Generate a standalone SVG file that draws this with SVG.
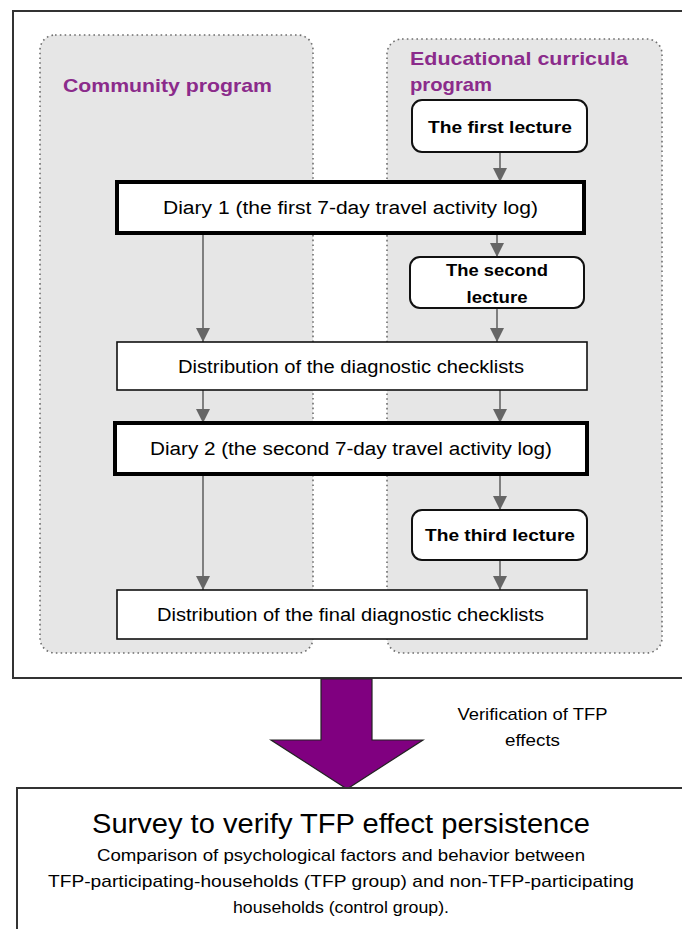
<svg xmlns="http://www.w3.org/2000/svg" width="682" height="929" viewBox="0 0 682 929">
<style>
text{font-family:"Liberation Sans",Arial,sans-serif;fill:#000}
.hd{font-size:19px;font-weight:bold;fill:#8b2b8b}
.lec{font-size:17px;font-weight:bold;text-anchor:middle}
.bx{font-size:18px;text-anchor:middle}
.prog{fill:#e6e6e6;stroke:#6e6e6e;stroke-width:1.6;stroke-dasharray:1.6 3.2}
.lbox{fill:#fff;stroke:#111;stroke-width:2}
.thick{fill:#fff;stroke:#000;stroke-width:4}
.thin{fill:#fff;stroke:#111;stroke-width:1.6}
.conn line{stroke:#666;stroke-width:1.6;marker-end:url(#ah)}
</style>
<defs>
<marker id="ah" markerUnits="userSpaceOnUse" markerWidth="14" markerHeight="14" refX="14" refY="7" orient="auto" viewBox="0 0 14 14">
<path d="M0,0 L14,7 L0,14 Z" fill="#666"/>
</marker>
</defs>
<rect width="682" height="929" fill="#fff"/>
<g id="frame"><rect x="13" y="11" width="675" height="667" fill="#fff" stroke="#333" stroke-width="2"/></g>
<g id="community-program"><rect class="prog" x="40" y="35" width="273" height="618" rx="15"/><text class="hd" x="63" y="92" textLength="209" lengthAdjust="spacingAndGlyphs">Community program</text></g>
<g id="educational-program"><rect class="prog" x="387" y="39" width="275" height="614" rx="15"/><text class="hd" x="410" y="65" textLength="218" lengthAdjust="spacingAndGlyphs">Educational curricula</text><text class="hd" x="410" y="91" textLength="82" lengthAdjust="spacingAndGlyphs">program</text></g>
<g class="conn" id="connectors">
<line x1="500" y1="152" x2="500" y2="182"/>
<line x1="497" y1="233" x2="497" y2="257"/>
<line x1="497" y1="308" x2="497" y2="342"/>
<line x1="500" y1="390" x2="500" y2="423"/>
<line x1="500" y1="474" x2="500" y2="510"/>
<line x1="500" y1="560" x2="500" y2="590"/>
<line x1="203" y1="233" x2="203" y2="342"/>
<line x1="203" y1="390" x2="203" y2="423"/>
<line x1="203" y1="474" x2="203" y2="590"/>
</g>
<g id="first-lecture"><rect class="lbox" x="412" y="100" width="175" height="52" rx="10"/><text class="lec" x="500" y="133" textLength="144" lengthAdjust="spacingAndGlyphs">The first lecture</text></g>
<g id="diary1"><rect class="thick" x="117" y="182" width="467" height="51"/><text class="bx" x="350.5" y="214" textLength="375" lengthAdjust="spacingAndGlyphs">Diary 1 (the first 7-day travel activity log)</text></g>
<g id="second-lecture"><rect class="lbox" x="410" y="257" width="174" height="51" rx="10"/><text class="lec" x="497" y="276" textLength="102" lengthAdjust="spacingAndGlyphs">The second</text><text class="lec" x="497" y="303" textLength="61" lengthAdjust="spacingAndGlyphs">lecture</text></g>
<g id="distribution"><rect class="thin" x="117" y="342" width="470" height="48"/><text class="bx" x="351" y="373" textLength="346" lengthAdjust="spacingAndGlyphs">Distribution of the diagnostic checklists</text></g>
<g id="diary2"><rect class="thick" x="115" y="423" width="472" height="51"/><text class="bx" x="351" y="455" textLength="402" lengthAdjust="spacingAndGlyphs">Diary 2 (the second 7-day travel activity log)</text></g>
<g id="third-lecture"><rect class="lbox" x="412" y="510" width="175" height="50" rx="10"/><text class="lec" x="500" y="541" textLength="150" lengthAdjust="spacingAndGlyphs">The third lecture</text></g>
<g id="final-distribution"><rect class="thin" x="117" y="590" width="470" height="49"/><text class="bx" x="350.5" y="621" textLength="387" lengthAdjust="spacingAndGlyphs">Distribution of the final diagnostic checklists</text></g>
<g id="big-arrow"><polygon points="321,679 372,679 372,740 423,740 347,789 271,740 321,740" fill="#800080" stroke="#222" stroke-width="1.2"/></g>
<g id="verification-label"><text x="532.5" y="720" font-size="17" text-anchor="middle" textLength="150" lengthAdjust="spacingAndGlyphs">Verification of TFP</text><text x="532.5" y="746" font-size="17" text-anchor="middle" textLength="55" lengthAdjust="spacingAndGlyphs">effects</text></g>
<g id="survey"><rect x="17" y="788" width="675" height="150" fill="#fff" stroke="#333" stroke-width="2"/>
<text x="341" y="833" font-size="27" text-anchor="middle" textLength="498" lengthAdjust="spacingAndGlyphs">Survey to verify TFP effect persistence</text>
<text x="341" y="861" font-size="17" text-anchor="middle" textLength="488" lengthAdjust="spacingAndGlyphs">Comparison of psychological factors and behavior between</text>
<text x="341" y="887" font-size="17" text-anchor="middle" textLength="586" lengthAdjust="spacingAndGlyphs">TFP-participating-households (TFP group) and non-TFP-participating</text>
<text x="341" y="913" font-size="17" text-anchor="middle" textLength="216" lengthAdjust="spacingAndGlyphs">households (control group).</text></g>
</svg>
